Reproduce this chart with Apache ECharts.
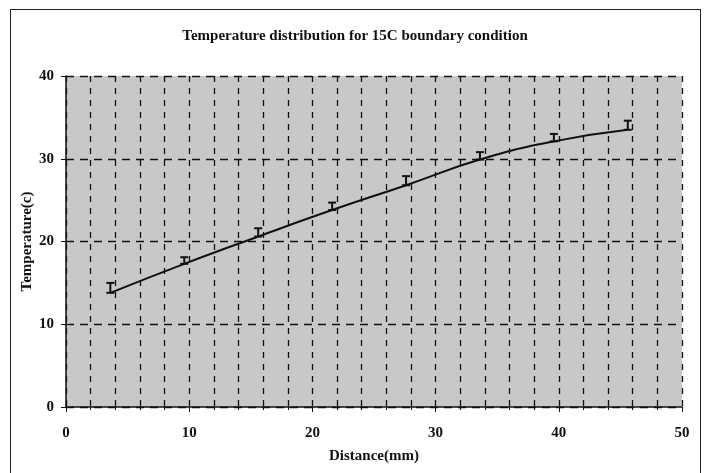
<!DOCTYPE html>
<html>
<head>
<meta charset="utf-8">
<script src="https://cdn.jsdelivr.net/npm/echarts@6/dist/echarts.min.js"></script>
<style>
  html, body { margin: 0; padding: 0; background: #fff; overflow: hidden; }
  #frame { position: absolute; left: 10px; top: 9px; width: 691px; height: 480px; border: 1px solid #222; box-sizing: border-box; }
  #chart { position: absolute; left: 0; top: 0; width: 710px; height: 473px; }
</style>
</head>
<body>
<div id="frame"></div>
<div id="chart"></div>
<script>
// measured positions (mm) and temperatures (C)
const distance = [3.6, 9.6, 15.6, 21.6, 27.6, 33.6, 39.6, 45.6];
const tempLine = [13.8, 17.3, 20.6, 23.8, 26.8, 29.9, 32.1, 33.5];
const tempUpper = [15.0, 18.1, 21.6, 24.7, 27.9, 30.8, 33.0, 34.6];

const titleText = 'Temperature distribution for 15C boundary condition';
const xName = 'Distance(mm)';
const yName = 'Temperature(c)';

const font = '"Liberation Serif", "DejaVu Serif", serif';

const chart = echarts.init(document.getElementById('chart'));

const lineData = distance.map((d, i) => [d, tempLine[i]]);
const errData = distance.map((d, i) => [d, tempLine[i], tempUpper[i]]);

const option = {
  animation: false,
  title: {
    text: titleText,
    left: 'center',
    top: 24,
    textStyle: { fontFamily: font, fontSize: 15, fontWeight: 'bold', color: '#111' }
  },
  grid: { left: 66, right: 28, top: 76, bottom: 66, show: true, backgroundColor: '#c8c8c8', borderWidth: 0 },
  xAxis: {
    type: 'value',
    min: 0, max: 50, interval: 10,
    name: xName,
    nameLocation: 'middle',
    nameGap: 42,
    nameMoveOverlap: false,
    nameTextStyle: { fontFamily: font, fontSize: 15, fontWeight: 'bold', color: '#111' },
    axisLine: { show: true, lineStyle: { color: '#111', width: 1.5 } },
    axisTick: { show: true, length: 5, lineStyle: { color: '#111' } },
    minorTick: { show: true, splitNumber: 5, length: 3, lineStyle: { color: '#111' } },
    axisLabel: { fontFamily: font, fontSize: 15, fontWeight: 'bold', color: '#111', margin: 19 },
    splitLine: { show: true, lineStyle: { color: '#111', type: [6, 6], width: 1.3 } },
    minorSplitLine: { show: true, lineStyle: { color: '#111', type: [6, 6], width: 1.3 } }
  },
  yAxis: {
    type: 'value',
    min: 0, max: 40, interval: 10,
    name: yName,
    nameLocation: 'middle',
    nameGap: 31,
    nameMoveOverlap: false,
    nameTextStyle: { fontFamily: font, fontSize: 15, fontWeight: 'bold', color: '#111' },
    axisLine: { show: true, lineStyle: { color: '#111', width: 1.5 } },
    axisTick: { show: true, length: 5, lineStyle: { color: '#111' } },
    axisLabel: { fontFamily: font, fontSize: 15, fontWeight: 'bold', color: '#111', margin: 12 },
    splitLine: { show: true, lineStyle: { color: '#111', type: [8, 6], width: 1.3 } }
  },
  series: [
    {
      type: 'line',
      data: lineData,
      smooth: true,
      symbol: 'none',
      lineStyle: { color: '#111', width: 2 },
      z: 3
    },
    {
      type: 'custom',
      data: errData,
      z: 4,
      renderItem: function (params, api) {
        const x = api.value(0);
        const lo = api.coord([x, api.value(1)]);
        const hi = api.coord([x, api.value(2)]);
        const w = 4;
        const style = { stroke: '#111', lineWidth: 2 };
        return {
          type: 'group',
          children: [
            { type: 'line', shape: { x1: hi[0], y1: hi[1], x2: lo[0], y2: lo[1] }, style: style },
            { type: 'line', shape: { x1: hi[0] - w, y1: hi[1], x2: hi[0] + w, y2: hi[1] }, style: style },
            { type: 'line', shape: { x1: lo[0] - w, y1: lo[1], x2: lo[0] + w, y2: lo[1] }, style: style }
          ]
        };
      }
    }
  ]
};

chart.setOption(option);
</script>
</body>
</html>
